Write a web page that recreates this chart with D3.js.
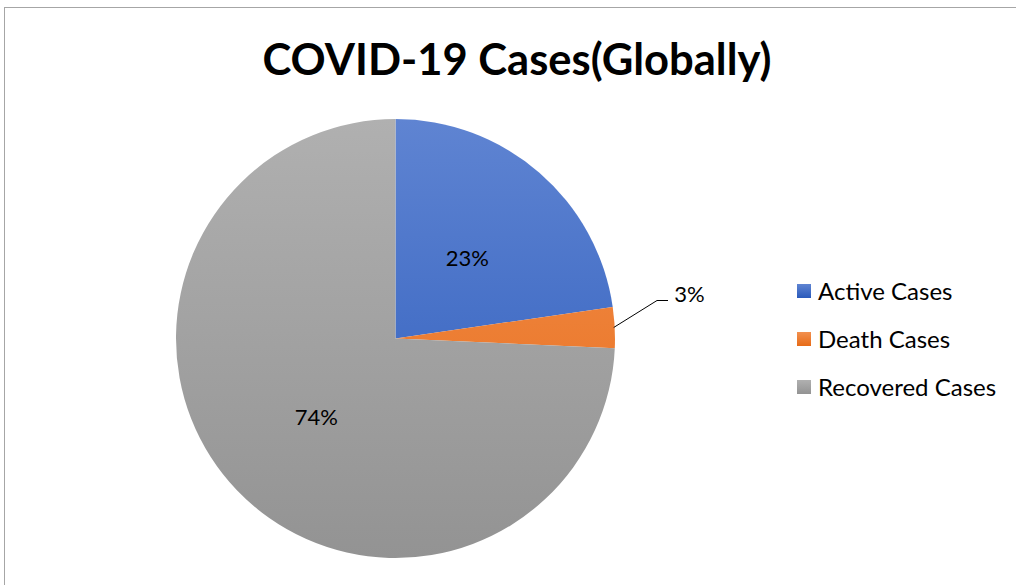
<!DOCTYPE html>
<html>
<head>
<meta charset="utf-8">
<script src="https://cdn.jsdelivr.net/npm/d3@7"></script>
<style>
  body { margin: 0; background: #fff; }
  text { font-family: Lato, "Open Sans", sans-serif; }
</style>
</head>
<body>
<div id="chart"></div>
<script>
// data
var categories = ["Active Cases", "Death Cases", "Recovered Cases"];
var shares = [22.7, 3.0, 74.3];
var labels = ["23%", "3%", "74%"];
var colorsTop = ["#5f84d2", "#f2904f", "#b0b0b0"];
var colorsBottom = ["#2a5abb", "#e76b17", "#939393"];

var width = 1016, height = 585;

var svg = d3.select("#chart")
    .append("svg")
    .attr("width", width)
    .attr("height", height);

svg.append("rect")
    .attr("width", width).attr("height", height).attr("fill", "#fff");

// chart border
svg.append("rect")
    .attr("x", 4.5).attr("y", 7.5)
    .attr("width", width + 10).attr("height", height + 10)
    .attr("fill", "none")
    .attr("stroke", "#a6a6a6")
    .attr("stroke-width", 1);

// title, squeezed to the width it has in the picture
svg.append("text")
    .attr("x", 517).attr("y", 75)
    .attr("text-anchor", "middle")
    .attr("font-weight", "bold")
    .attr("font-size", 44)
    .attr("fill", "#000")
    .attr("textLength", 509)
    .attr("lengthAdjust", "spacingAndGlyphs")
    .text("COVID-19 Cases(Globally)");

var cx = 395.5, cy = 338.5, r = 219.5;

var defs = svg.append("defs");
categories.forEach(function (c, i) {
    // pie gradient, in the pie group's coordinates so it spans the whole pie
    var g = defs.append("linearGradient")
        .attr("id", "grad" + i)
        .attr("gradientUnits", "userSpaceOnUse")
        .attr("x1", 0).attr("y1", -r)
        .attr("x2", 0).attr("y2", r);
    g.append("stop").attr("offset", "0%").attr("stop-color", colorsTop[i]);
    g.append("stop").attr("offset", "100%").attr("stop-color", colorsBottom[i]);
    var lg = defs.append("linearGradient")
        .attr("id", "lg" + i)
        .attr("x1", 0).attr("y1", 0).attr("x2", 0).attr("y2", 1);
    lg.append("stop").attr("offset", "0%").attr("stop-color", colorsTop[i]);
    lg.append("stop").attr("offset", "100%").attr("stop-color", colorsBottom[i]);
});

var pie = d3.pie().sort(null).value(function (d) { return d; });
var arcs = pie(shares);
var arc = d3.arc().innerRadius(0).outerRadius(r);

var g = svg.append("g").attr("transform", "translate(" + cx + "," + cy + ")");
g.selectAll("path.slice")
    .data(arcs)
    .enter()
    .append("path")
    .attr("class", "slice")
    .attr("d", arc)
    .attr("fill", function (d, i) { return "url(#grad" + i + ")"; });

// data labels: inside for the big slices, outside with leader for the small one
var inner = d3.arc().innerRadius(r * 0.5).outerRadius(r * 0.5);
arcs.forEach(function (d, i) {
    if (i === 1) {
        var mid = (d.startAngle + d.endAngle) / 2 - Math.PI / 2;
        var ex = cx + r * Math.cos(mid), ey = cy + r * Math.sin(mid);
        svg.append("polyline")
            .attr("points", [[ex - 1, ey], [657, 300.5], [668, 300.5]].map(function (p) { return p.join(","); }).join(" "))
            .attr("fill", "none")
            .attr("stroke", "#000")
            .attr("stroke-width", 1);
        svg.append("text")
            .attr("x", 689.5).attr("y", 302)
            .attr("text-anchor", "middle")
            .attr("font-size", 22)
            .attr("fill", "#000")
            .text(labels[i]);
    } else {
        var c = inner.centroid(d);
        svg.append("text")
            .attr("x", cx + c[0]).attr("y", cy + c[1] + 11)
            .attr("text-anchor", "middle")
            .attr("font-size", 22)
            .attr("fill", "#000")
            .text(labels[i]);
    }
});

// legend
var legend = svg.append("g");
categories.forEach(function (c, i) {
    var y = 291 + i * 48;
    legend.append("rect")
        .attr("x", 797).attr("y", y - 7)
        .attr("width", 14).attr("height", 14)
        .attr("fill", "url(#lg" + i + ")");
    legend.append("text")
        .attr("x", 818).attr("y", y + 9)
        .attr("font-size", 24)
        .attr("fill", "#000")
        .text(c);
});
</script>
</body>
</html>
